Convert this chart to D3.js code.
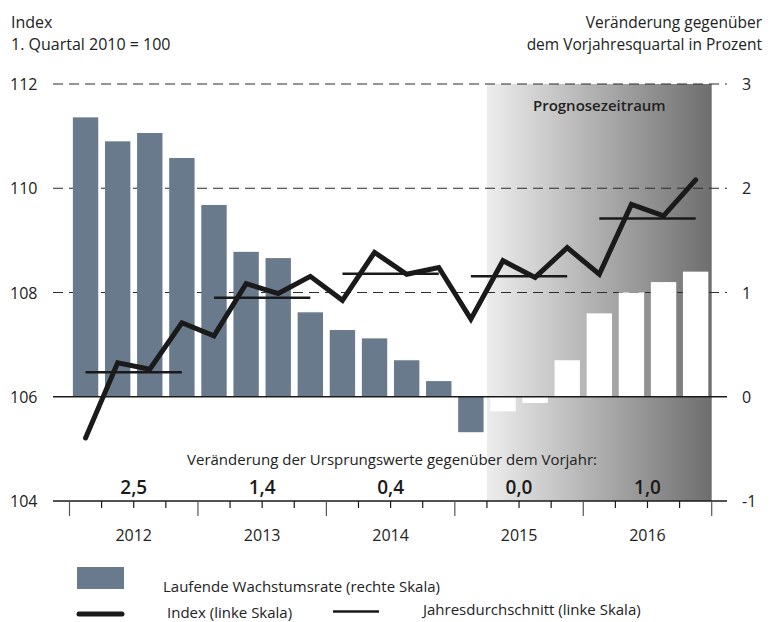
<!DOCTYPE html>
<html>
<head>
    <meta charset="utf-8">
    <title>Index und Wachstumsrate</title>
    <script src="https://d3js.org/d3.v7.min.js"></script>
    <style>
        body { margin: 0; background: #fff; }
        svg { display: block; font-family: 'Open Sans', sans-serif; }
        .lbl { font-size: 15px; fill: #222; }
        .head { font-size: 16px; fill: #222; }
    </style>
</head>
<body>
    <svg width="781" height="622"></svg>
    <script>
        // data
        const years = ["2012", "2013", "2014", "2015", "2016"];
        const quarters = years.flatMap(y => ["Q1", "Q2", "Q3", "Q4"].map(q => y + q));
        // laufende Wachstumsrate, rechte Skala (%)
        const growth = [2.68, 2.45, 2.53, 2.29, 1.84, 1.39, 1.33, 0.81, 0.64, 0.56,
                        0.35, 0.15, -0.34, -0.14, -0.06, 0.35, 0.80, 1.00, 1.10, 1.20];
        // Index, linke Skala
        const indexVals = [105.21, 106.65, 106.53, 107.42, 107.17, 108.17, 107.98, 108.31, 107.85, 108.77,
                           108.35, 108.48, 107.49, 108.61, 108.29, 108.86, 108.35, 109.69, 109.47, 110.16];
        const annualAvg = [106.47, 107.90, 108.36, 108.31, 109.42];
        const annualChange = ["2,5", "1,4", "0,4", "0,0", "1,0"];
        const leftTicks = [104, 106, 108, 110, 112];
        const rightTicks = [-1, 0, 1, 2, 3];
        const forecastStart = "2015Q2";

        const svg = d3.select("svg");

        const x = d3.scaleBand()
            .domain(quarters)
            .range([69.5, 711.7])
            .paddingInner(0.21)
            .paddingOuter(0.105);
        const step = x.step();
        const x0 = x.range()[0];

        const yL = d3.scaleLinear().domain([104, 112]).range([501, 84]);
        const yR = d3.scaleLinear().domain([-1, 3]).range([501, 84]);

        const gridLeft = 53, gridRight = 727;

        // forecast shading
        const grad = svg.append("defs").append("linearGradient")
            .attr("id", "fc").attr("x1", "0%").attr("x2", "100%");
        grad.append("stop").attr("offset", "0%").attr("stop-color", "#ededed");
        grad.append("stop").attr("offset", "100%").attr("stop-color", "#6e6e6e");

        const fcX = x(forecastStart) - (step - x.bandwidth()) / 2;
        svg.append("rect")
            .attr("x", fcX)
            .attr("y", yR(3))
            .attr("width", x.range()[1] - fcX)
            .attr("height", yR(-1) - yR(3))
            .attr("fill", "url(#fc)");

        svg.append("text")
            .attr("x", (fcX + x.range()[1]) / 2)
            .attr("y", 111)
            .attr("text-anchor", "middle")
            .style("font-size", "15px")
            .style("font-weight", "600")
            .attr("fill", "#222")
            .text("Prognosezeitraum");

        // dashed gridlines
        svg.selectAll(".grid")
            .data([112, 110, 108])
            .enter().append("line")
            .attr("x1", gridLeft).attr("x2", gridRight)
            .attr("y1", d => yL(d)).attr("y2", d => yL(d))
            .attr("stroke", "#2a2a2a")
            .attr("stroke-width", 1.2)
            .attr("stroke-dasharray", "10,6");

        // bars
        const fcIdx = quarters.indexOf(forecastStart);
        svg.selectAll(".bar")
            .data(growth)
            .enter().append("rect")
            .attr("x", (d, i) => x(quarters[i]))
            .attr("y", d => yR(Math.max(0, d)))
            .attr("width", x.bandwidth())
            .attr("height", d => Math.abs(yR(d) - yR(0)))
            .attr("fill", (d, i) => i >= fcIdx ? "#ffffff" : "#687a8c");

        // zero line and bottom axis
        svg.append("line")
            .attr("x1", gridLeft).attr("x2", gridRight)
            .attr("y1", yR(0)).attr("y2", yR(0))
            .attr("stroke", "#1a1a1a").attr("stroke-width", 1.3);
        svg.append("line")
            .attr("x1", gridLeft).attr("x2", gridRight)
            .attr("y1", yR(-1)).attr("y2", yR(-1))
            .attr("stroke", "#1a1a1a").attr("stroke-width", 1.3);

        // quarter ticks
        svg.selectAll(".tick")
            .data(d3.range(quarters.length + 1))
            .enter().append("line")
            .attr("x1", i => x0 + i * step).attr("x2", i => x0 + i * step)
            .attr("y1", yR(-1))
            .attr("y2", i => yR(-1) + (i % 4 === 0 ? 15 : 7))
            .attr("stroke", i => i % 4 === 0 ? "#555" : "#1a1a1a")
            .attr("stroke-width", 1.2);

        // year labels
        svg.selectAll(".year")
            .data(years)
            .enter().append("text")
            .attr("class", "head")
            .attr("x", (d, i) => x0 + (i * 4 + 2) * step)
            .attr("y", 541)
            .attr("text-anchor", "middle")
            .text(d => d);

        // left / right axis labels
        svg.selectAll(".ll")
            .data(leftTicks)
            .enter().append("text")
            .attr("class", "head")
            .attr("x", 10)
            .attr("y", d => yL(d) + 6)
            .text(d => d);
        svg.selectAll(".rl")
            .data(rightTicks)
            .enter().append("text")
            .attr("class", "head")
            .attr("x", 742)
            .attr("y", d => yR(d) + 6)
            .text(d => d);

        // annual averages
        const cx = q => x(q) + x.bandwidth() / 2;
        svg.selectAll(".avg")
            .data(annualAvg)
            .enter().append("line")
            .attr("x1", (d, i) => cx(years[i] + "Q1"))
            .attr("x2", (d, i) => cx(years[i] + "Q4"))
            .attr("y1", d => yL(d)).attr("y2", d => yL(d))
            .attr("stroke", "#1a1a1a")
            .attr("stroke-width", 2.5);

        // index line
        const line = d3.line()
            .x((d, i) => cx(quarters[i]))
            .y(d => yL(d));
        svg.append("path")
            .datum(indexVals)
            .attr("d", line)
            .attr("fill", "none")
            .attr("stroke", "#1a1a1a")
            .attr("stroke-width", 5)
            .attr("stroke-linecap", "round")
            .attr("stroke-linejoin", "miter");

        // annual change of original values
        svg.append("text")
            .attr("class", "lbl")
            .attr("x", 392)
            .attr("y", 465)
            .attr("text-anchor", "middle")
            .text("Veränderung der Ursprungswerte gegenüber dem Vorjahr:");
        svg.selectAll(".chg")
            .data(annualChange)
            .enter().append("text")
            .attr("x", (d, i) => x0 + (i * 4 + 2) * step)
            .attr("y", 494)
            .attr("text-anchor", "middle")
            .style("font-size", "19px")
            .style("font-weight", "600")
            .attr("fill", "#1a1a1a")
            .text(d => d);

        // headers
        svg.append("text").attr("class", "head").attr("x", 11).attr("y", 28).text("Index");
        svg.append("text").attr("class", "head").attr("x", 11).attr("y", 50).text("1. Quartal 2010 = 100");
        svg.append("text").attr("class", "lbl").attr("x", 762).attr("y", 28)
            .attr("text-anchor", "end").style("font-size", "15.5px").text("Veränderung gegenüber");
        svg.append("text").attr("class", "lbl").attr("x", 762).attr("y", 50)
            .attr("text-anchor", "end").style("font-size", "15.5px").text("dem Vorjahresquartal in Prozent");

        // legend
        svg.append("rect")
            .attr("x", 77).attr("y", 567).attr("width", 47).attr("height", 22)
            .attr("fill", "#687a8c");
        svg.append("text").attr("class", "lbl").attr("x", 163).attr("y", 592)
            .text("Laufende Wachstumsrate (rechte Skala)");
        svg.append("line")
            .attr("x1", 79).attr("x2", 122).attr("y1", 614).attr("y2", 614)
            .attr("stroke", "#1a1a1a").attr("stroke-width", 5).attr("stroke-linecap", "round");
        svg.append("text").attr("class", "lbl").attr("x", 167).attr("y", 618)
            .text("Index (linke Skala)");
        svg.append("line")
            .attr("x1", 333).attr("x2", 379).attr("y1", 611.5).attr("y2", 611.5)
            .attr("stroke", "#1a1a1a").attr("stroke-width", 2.5);
        svg.append("text").attr("class", "lbl").attr("x", 423).attr("y", 615)
            .text("Jahresdurchschnitt (linke Skala)");
    </script>
</body>
</html>
